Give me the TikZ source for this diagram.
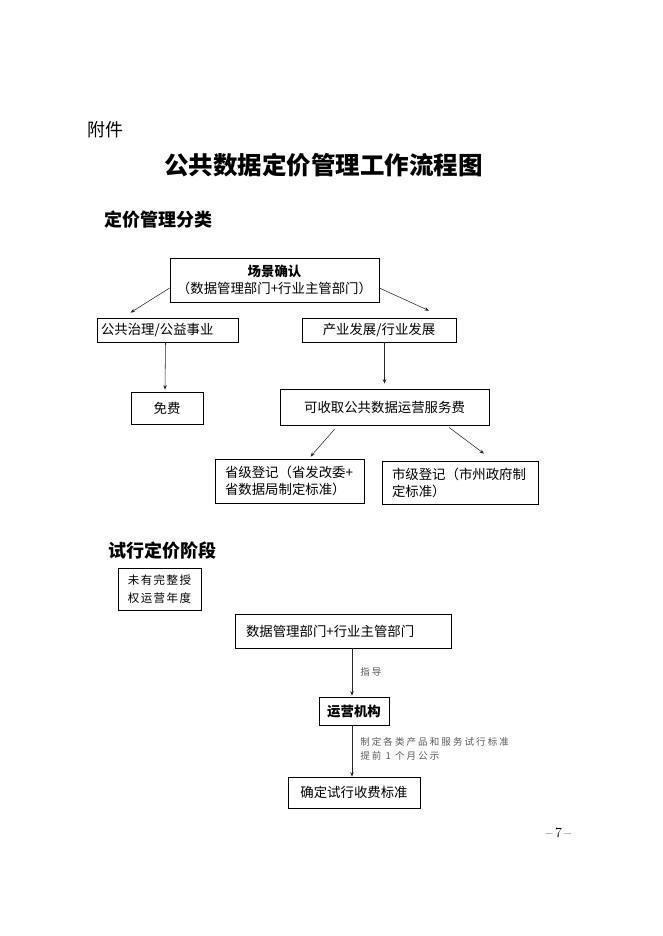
\documentclass[tikz,border=0pt]{standalone}
\usepackage{fontspec}
\setmainfont{Noto Sans CJK SC}
\newfontfamily\notefont[LetterSpace=22]{Noto Sans CJK SC}
\newfontfamily\yearfont[LetterSpace=12]{Noto Sans CJK SC}
\newfontfamily\pagefont{Latin Modern Roman}
\usetikzlibrary{arrows.meta}
\tikzset{
  box/.style={draw, line width=0.7pt, inner sep=0pt, align=center,
    font=\fontsize{13.4}{17}\selectfont},
  leftbox/.style={box, align=left},
  arr/.style={-{Stealth[length=4.5pt,width=3.5pt]}, line width=0.55pt, draw=black!85},
  note/.style={inner sep=0pt, text=black!65, align=left,
    font=\notefont\fontsize{9.5}{14}\selectfont},
}
\begin{document}
\begin{tikzpicture}[x=1pt,y=-1pt]
      \useasboundingbox[fill=white] (0,0) rectangle (662,936);
      % headings
      \node[anchor=west, inner sep=0pt, font=\fontsize{18}{18}\selectfont] (annex) at (87,130) {附件};
      \node[inner sep=0pt, font=\bfseries\fontsize{24.5}{25}\selectfont] (title) at (323.5,165) {公共数据定价管理工作流程图};
      \node[anchor=west, inner sep=0pt, font=\bfseries\fontsize{18}{18}\selectfont] (head1) at (104,220) {定价管理分类};
      \node[anchor=west, inner sep=0pt, font=\bfseries\fontsize{18}{18}\selectfont] (head2) at (108,551) {试行定价阶段};
      % classification
      \node[box, minimum width=209pt, minimum height=44pt] (scene) at (274.5,280)
        {\textbf{场景确认}\\（数据管理部门+行业主管部门）};
      \node[leftbox, text width=133pt, inner xsep=4pt, minimum height=24pt] (pub) at (167.5,330) {公共治理/公益事业};
      \node[box, minimum width=154pt, minimum height=24pt] (ind) at (379,330) {产业发展/行业发展};
      \node[box, minimum width=72pt, minimum height=32pt] (free) at (167,408) {免费};
      \node[box, minimum width=209pt, minimum height=36pt] (fee) at (384.5,407) {可收取公共数据运营服务费};
      \node[leftbox, text width=129pt, inner xsep=10pt, minimum height=44pt] (prov) at (289.5,481)
        {省级登记（省发改委+\\省数据局制定标准）};
      \node[leftbox, text width=136pt, inner xsep=10pt, minimum height=43pt] (city) at (460,482.5)
        {市级登记（市州政府制\\定标准）};
      \begin{scope}[arr]
        \draw ([yshift=-8pt]scene.west) to ([xshift=-37pt,yshift=5pt]pub.north);
        \draw ([yshift=-8pt]scene.east) to ([xshift=50pt,yshift=7pt]ind.north);
        \draw ([xshift=-2pt]pub.south) to ([xshift=-2pt,yshift=2pt]free.north);
        \draw (fee.north |- ind.south) to ([yshift=5pt]fee.north);
        \draw ([xshift=-50pt,yshift=-4pt]fee.south) to ([xshift=21pt,yshift=2pt]prov.north);
        \draw ([xshift=64.5pt,yshift=-2pt]fee.south) to ([xshift=24pt,yshift=7pt]city.north);
      \end{scope}
      % trial pricing
      \node[box, minimum width=83pt, minimum height=42pt, font=\yearfont\fontsize{11.5}{18}\selectfont] (year) at (159.5,589)
        {未有完整授\\权运营年度};
      \node[leftbox, text width=194pt, inner xsep=11pt, minimum height=34pt] (dept) at (343,631) {数据管理部门+行业主管部门};
      \node[box, minimum width=70pt, minimum height=28pt, font=\bfseries\fontsize{13.4}{17}\selectfont] (op) at (354,711) {运营机构};
      \node[box, minimum width=132pt, minimum height=31pt] (std) at (354,792.5) {确定试行收费标准};
      \begin{scope}[arr]
        \draw ([xshift=-2pt]op.north |- dept.south) to node[note, right, xshift=8pt] (guide) {指导} ([xshift=-2pt,yshift=1pt]op.north);
        \draw ([xshift=-2pt]op.south) to node[note, right, xshift=8pt, yshift=2pt] (rule) {制定各类产品和服务试行标准\\提前 1 个月公示} ([xshift=-2pt]std.north);
      \end{scope}
      % page number
      \node[inner sep=0pt, font=\pagefont\fontsize{14}{14}\selectfont] (page) at (558.5,833) {\textendash\,7\,\textendash};
    \end{tikzpicture}
\end{document}
